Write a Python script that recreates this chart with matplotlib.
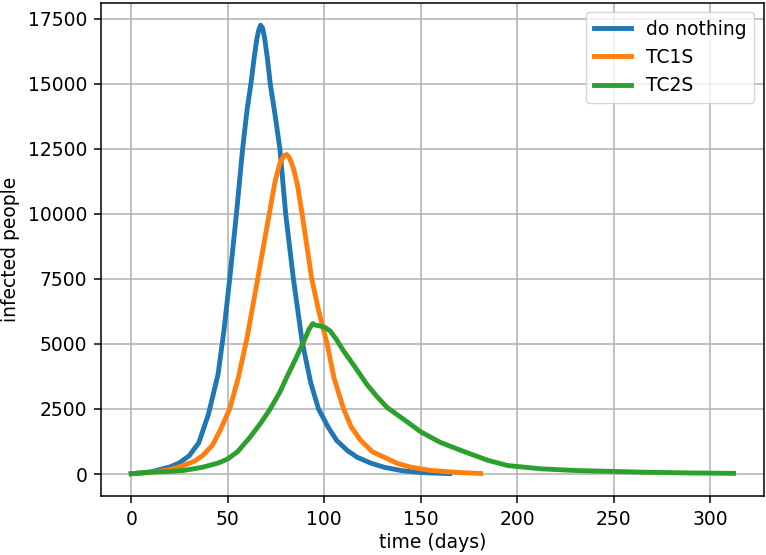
import numpy as np
import matplotlib
matplotlib.use('Agg')
import matplotlib.pyplot as plt

# values (day, infected people)
days_nothing = [0, 10, 20, 25, 30, 35, 40, 45, 48, 51, 54.5, 57.7, 60, 62, 63.5, 65, 66, 67,
                68, 69, 70.5, 72, 74.5, 77, 80, 84, 88.5, 93, 97, 102, 106.5, 112, 117,
                124, 131, 140, 148, 155, 165]
inf_nothing = [10, 80, 270, 430, 700, 1200, 2300, 3840, 5500, 7500, 10000, 12500, 14000,
               15000, 15900, 16700, 17050, 17250, 17150, 16800, 16000, 15000, 13800, 12500,
               10000, 7500, 5100, 3500, 2500, 1800, 1280, 900, 645, 420, 260, 130, 70, 40, 15]

days_tc1s = [0, 10, 20, 27, 33, 37, 42, 46, 51, 55.5, 60, 65.5, 71.5, 74.5, 77, 79, 80.5,
             82, 84, 86, 88.5, 91, 93.5, 97, 101.5, 105, 110, 114, 119, 125, 131, 138, 145,
             155, 165, 172, 181]
inf_tc1s = [10, 60, 170, 325, 500, 710, 1100, 1670, 2500, 3710, 5240, 7500, 10000, 11245,
            11950, 12230, 12280, 12150, 11750, 11150, 10000, 8750, 7500, 6300, 5000, 3700,
            2500, 1800, 1280, 850, 645, 400, 260, 140, 80, 50, 20]

days_tc2s = [0, 10, 20, 27, 37, 45, 50, 55, 61.5, 67, 72, 77, 80.5, 85, 89.5, 92, 94,
             95.5, 97, 100, 103, 106, 110, 116, 122, 127, 132.5, 143, 150, 160, 171,
             178, 185, 195, 212, 230, 265, 290, 312]
inf_tc2s = [10, 70, 100, 135, 260, 420, 580, 850, 1410, 1950, 2500, 3150, 3710, 4400,
            5115, 5550, 5780, 5720, 5700, 5650, 5500, 5200, 4730, 4100, 3450, 3000, 2560,
            2000, 1620, 1220, 900, 710, 520, 325, 200, 135, 70, 40, 25]

plt.rcParams['font.size'] = 13.5
plt.rcParams['axes.linewidth'] = 1.1
plt.rcParams['grid.linewidth'] = 1.1
for a in ('xtick', 'ytick'):
    plt.rcParams[a + '.major.size'] = 5
    plt.rcParams[a + '.major.width'] = 1.1
    plt.rcParams[a + '.major.pad'] = 5

fig = plt.figure(figsize=(7.66, 5.55), dpi=100)
ax = fig.add_axes([0.132, 0.106, 0.865, 0.889])

ax.plot(days_nothing, inf_nothing, linewidth=3.5, label='do nothing')
ax.plot(days_tc1s, inf_tc1s, linewidth=3.5, label='TC1S')
ax.plot(days_tc2s, inf_tc2s, linewidth=3.5, label='TC2S')

ax.set_xlabel('time (days)', labelpad=3)
ax.set_ylabel('infected people', labelpad=6)
ax.grid(True)
ax.legend(loc='upper right')

fig.savefig('out.png', dpi=100)
